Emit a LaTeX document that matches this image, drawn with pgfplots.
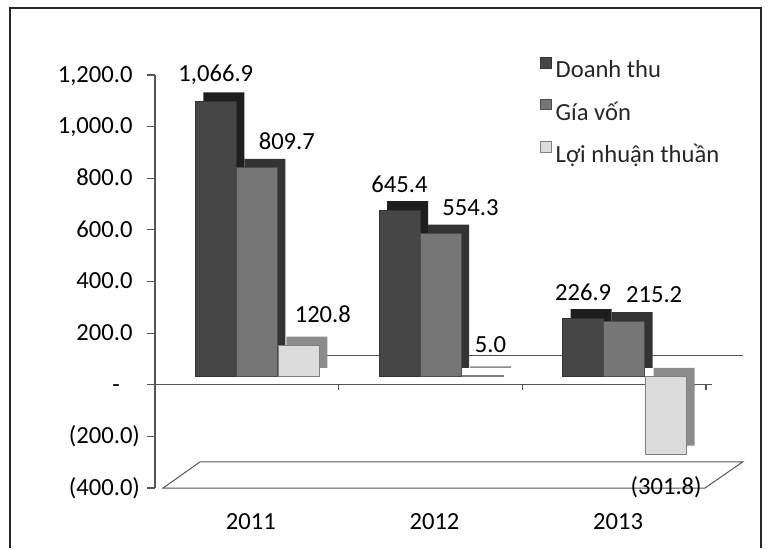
\documentclass[border=0pt]{standalone}
\usepackage{pgfplots}
\usepackage{pgfplotstable}
\pgfplotsset{compat=1.18}
\usepackage{fontspec}
\setmainfont{Carlito}
\definecolor{cDT}{HTML}{464646}
\definecolor{cDTs}{HTML}{1E1E1E}
\definecolor{cGV}{HTML}{767676}
\definecolor{cGVs}{HTML}{333333}
\definecolor{cLN}{HTML}{DCDCDC}
\definecolor{cLNs}{HTML}{8C8C8C}
\definecolor{cAx}{HTML}{555555}
\pgfplotsset{sqleg/.style={legend image code/.code={\fill[##1] (0pt,-2.6pt) rectangle (5.2pt,2.6pt);}}}
\pgfplotstableread{
x y label
0 1066.9 1,066.9
1 645.4 645.4
2 226.9 226.9
}\tDT
\pgfplotstableread{
x y label
0 809.7 809.7
1 554.3 554.3
2 215.2 215.2
}\tGV
\pgfplotstableread{
x y label
0 120.8 120.8
1 5.0 5.0
2 -301.8 (301.8)
}\tLN
\begin{document}
\begin{tikzpicture}[font=\fontsize{12.3}{14.5}\selectfont]
\path[use as bounding box] (0,0) rectangle (384.5pt,274pt);
\draw[line width=0.8pt, black!85] (5pt,0) -- (5pt,270pt) -- (380.5pt,270pt) -- (380.5pt,0);
\begin{axis}[
  at={(77.5pt,30pt)}, anchor=south west,
  scale only axis, width=275.5pt, height=206.5pt,
  xmin=-0.5, xmax=2.5, ymin=-400, ymax=1200,
  clip=false,
  axis x line*=bottom, x axis line style={draw=none},
  xtick={0,1,2}, xticklabels={2011,2012,2013},
  x tick style={draw=none},
  xticklabel style={yshift=-5pt, xshift=2pt, font=\fontsize{12.3}{14.5}\selectfont},
  axis y line*=left, y axis line style={cAx, line width=0.6pt},
  ytick={-400,-200,0,200,400,600,800,1000,1200},
  yticklabels={(400.0),(200.0),{-\phantom{0)}},200.0\phantom{)},400.0\phantom{)},600.0\phantom{)},800.0\phantom{)},{1,000.0\phantom{)}},{1,200.0\phantom{)}}},
  y tick style={cAx, line width=0.6pt},
  yticklabel style={font=\fontsize{12.3}{14.5}\selectfont},
  tick align=outside, major tick length=4pt,
  ybar=0pt, bar width=20.5pt,
  legend style={at={(rel axis cs:0.688,1.055)}, anchor=north west, draw=none, fill=none,
    row sep=6.5pt, font=\fontsize{12.3}{14.5}\selectfont, text=black!85},
  legend cell align=left,
]
% 3D-like floor and back wall decoration
\draw[cAx, line width=0.5pt] (axis cs:-0.456,-400) -- (axis cs:-0.255,-299) -- (axis cs:2.70,-299) -- (axis cs:2.494,-400) -- cycle;
\draw[cAx, line width=0.5pt] (axis cs:-0.28,115) -- (axis cs:2.70,115);
\draw[cAx, line width=0.7pt] (axis cs:-0.5,0) -- (axis cs:2.53,0);
\draw[cAx, line width=0.6pt] (axis cs:0.5,0) -- (axis cs:0.5,-22);
\draw[cAx, line width=0.6pt] (axis cs:1.5,0) -- (axis cs:1.5,-22);
\draw[cAx, line width=0.6pt] (axis cs:2.5,0) -- (axis cs:2.5,-22);
% Doanh thu
\addplot[fill=cDTs, draw=none, bar shift=-11.5pt, yshift=8.5pt, forget plot] table[x=x,y=y] {\tDT};
\addplot[fill=cDT, draw=black!80, bar shift=-15.5pt, yshift=4pt, sqleg,
  nodes near coords, point meta=explicit symbolic,
  nodes near coords style={text=black, yshift=5pt}] table[x=x,y=y,meta=label] {\tDT};
\addlegendentry{Doanh thu}
% Gia von
\addplot[fill=cGVs, draw=none, bar shift=9pt, yshift=8.5pt, forget plot] table[x=x,y=y] {\tGV};
\addplot[fill=cGV, draw=black!70, bar shift=5pt, yshift=4pt, sqleg,
  nodes near coords, point meta=explicit symbolic,
  nodes near coords style={text=black, xshift=15pt, yshift=5.5pt}] table[x=x,y=y,meta=label] {\tGV};
\addlegendentry{Gía vốn}
% Loi nhuan thuan
\addplot[fill=cLNs, draw=none, bar shift=30pt, yshift=8.5pt, forget plot] table[x=x,y=y] {\tLN};
\addplot[fill=cLN, draw=black!50, bar shift=26pt, yshift=4pt, sqleg,
  visualization depends on={rawy \as \rawy},
  nodes near coords, point meta=explicit symbolic,
  nodes near coords style={text=black,
    xshift={ifthenelse(\rawy<0,0,ifthenelse(\rawy<50,4,12))*1pt},
    yshift={ifthenelse(\rawy<0,-25,8)*1pt}}] table[x=x,y=y,meta=label] {\tLN};
\addlegendentry{Lợi nhuận thuần}
\end{axis}
\end{tikzpicture}
\end{document}
